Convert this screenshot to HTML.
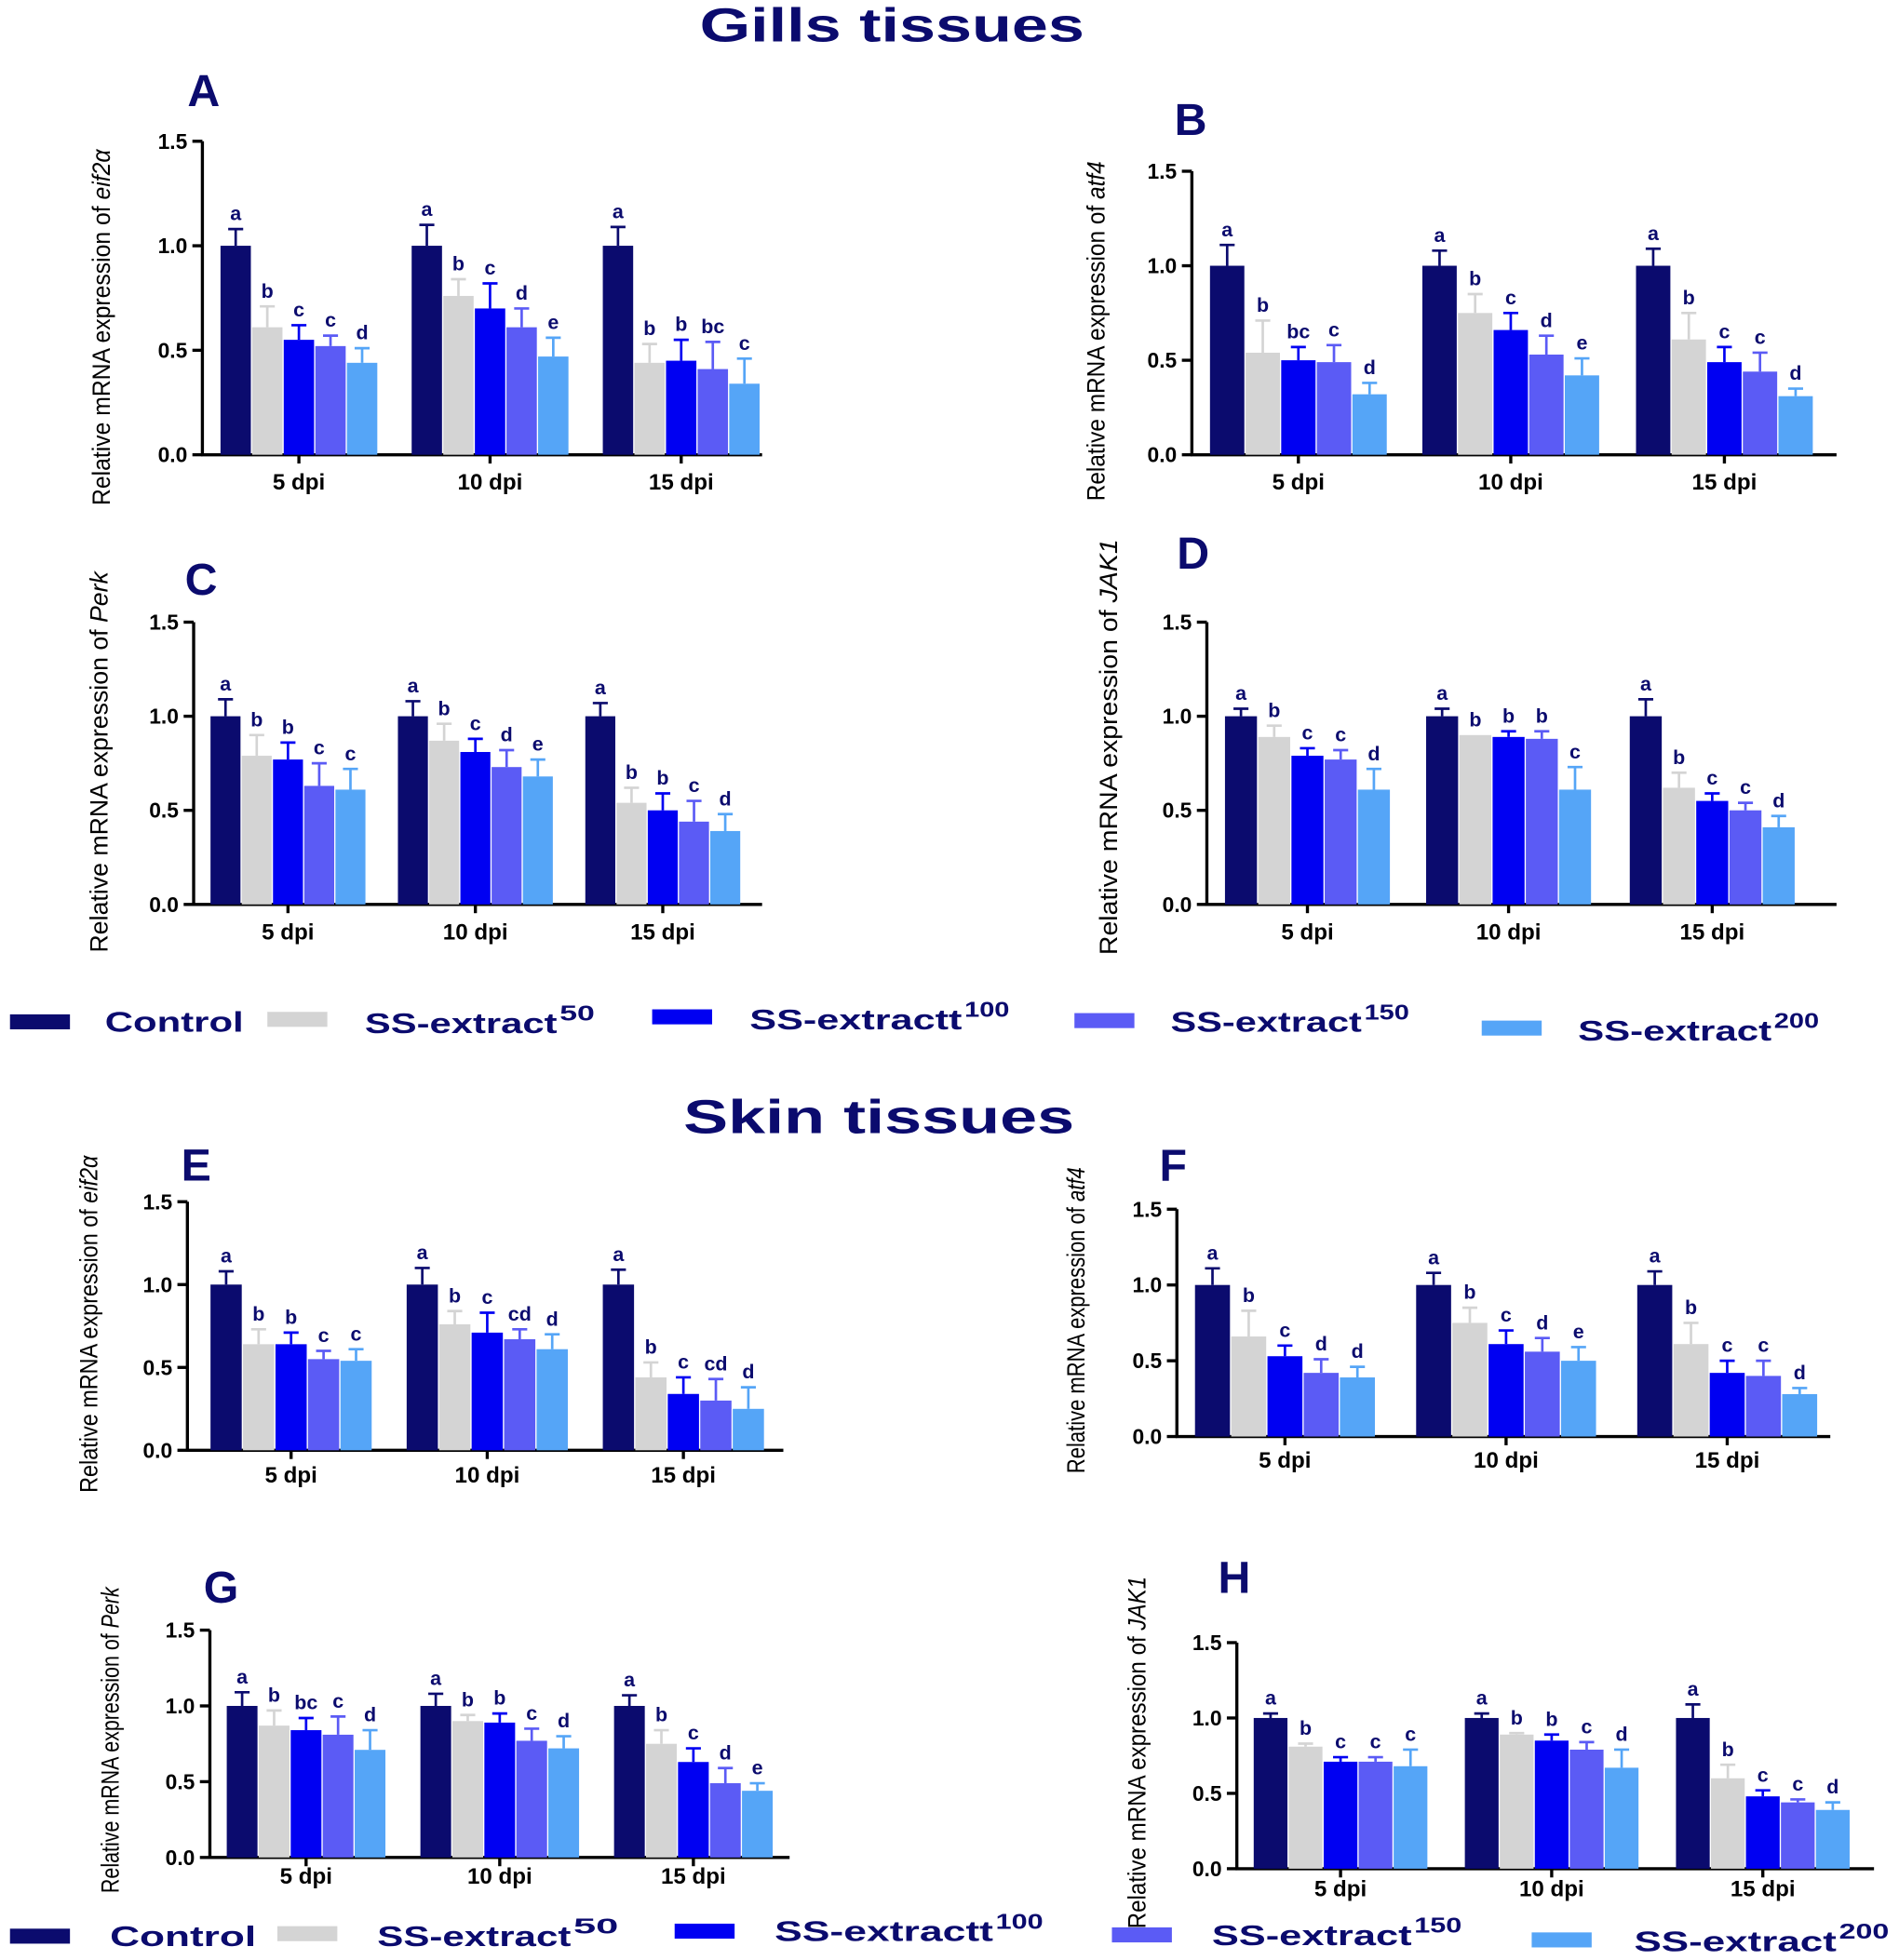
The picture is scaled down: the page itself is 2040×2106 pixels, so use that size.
<!DOCTYPE html>
<html><head><meta charset="utf-8"><style>
html,body{margin:0;padding:0;background:#fff;width:2040px;height:2106px;overflow:hidden}
svg text{font-family:"Liberation Sans",Arial,sans-serif}
</style></head><body>
<svg id="s" xmlns="http://www.w3.org/2000/svg" width="2040" height="2106" viewBox="0 0 1520 1569">
<rect width="1520" height="1569" fill="#fff"/>
</svg>
<script>
const NS="http://www.w3.org/2000/svg",S=document.getElementById('s');
function el(t,a,txt){const e=document.createElementNS(NS,t);for(const k in a)e.setAttribute(k,a[k]);if(txt!=null)e.textContent=txt;S.appendChild(e);return e;}
const NAVY="#0b0b6e",C=["#0b0b6e","#d4d4d4","#0000f2","#5b5bf5","#55a5f7"];
function panel(p){
 const sc=(p.y0-p.y15)/1.5, Y=v=>p.y0-v*sc;
 el('line',{x1:p.ax,y1:p.y15,x2:p.ax,y2:p.y0+1,stroke:'#000','stroke-width':2.5});
 el('line',{x1:p.ax-1,y1:p.y0,x2:p.xe,y2:p.y0,stroke:'#000','stroke-width':2.5});
 [0,0.5,1,1.5].forEach(v=>{el('line',{x1:p.ax-8,y1:Y(v),x2:p.ax,y2:Y(v),stroke:'#000','stroke-width':2.5});
  el('text',{x:p.ax-12,y:Y(v)+6,'text-anchor':'end','font-size':17,'font-weight':'bold'},v.toFixed(1));});
 p.g.forEach((gs,i)=>{
  const dat=p.d[i];
  const cx=gs+p.w*2.5;
  el('line',{x1:cx,y1:p.y0,x2:cx,y2:p.y0+7,stroke:'#000','stroke-width':2.5});
  for(let j=0;j<5;j++){
   const v=dat[0][j],e=dat[1][j],L=dat[2][j],x=gs+j*p.w,bx=x+p.w/2;
   el('rect',{x:x+0.5,y:Y(v),width:p.w-1,height:v*sc,fill:C[j]});
   if(e>0){el('line',{x1:bx,y1:Y(v),x2:bx,y2:Y(v+e),stroke:C[j],'stroke-width':2});
    el('line',{x1:bx-6,y1:Y(v+e),x2:bx+6,y2:Y(v+e),stroke:C[j],'stroke-width':2});}
   el('text',{x:bx,y:Y(v+e)-7,'text-anchor':'middle','font-size':16,'font-weight':'bold',fill:NAVY},L);
  }
  el('text',{x:cx,y:p.xl,'text-anchor':'middle','font-size':18,'font-weight':'bold'},['5 dpi','10 dpi','15 dpi'][i]);
 });
 el('text',{x:p.lx,y:p.ly,'font-size':36,'font-weight':'bold',fill:NAVY},p.L);
 const t=el('text',{x:0,y:0,'text-anchor':'middle','font-size':20,transform:`translate(${p.yx},${p.yc}) rotate(-90)`,textLength:p.yl,lengthAdjust:'spacingAndGlyphs'});
 t.appendChild(document.createTextNode('Relative mRNA expression of '));
 const ts=document.createElementNS(NS,'tspan');ts.setAttribute('font-style','italic');ts.textContent=p.gene;t.appendChild(ts);
}
const P=[
{L:'A',lx:150,ly:85,gene:'eif2α',yx:88,yc:262,yl:285,ax:162,y0:364,y15:113,xe:610,g:[176,329,482],w:25.3,xl:392,
 d:[[[1,.61,.55,.52,.44],[.08,.1,.07,.05,.07],'a b c c d'.split(' ')],[[1,.76,.70,.61,.47],[.1,.08,.12,.09,.09],'a b c d e'.split(' ')],[[1,.44,.45,.41,.34],[.09,.09,.1,.13,.12],'a b b bc c'.split(' ')]]},
{L:'B',lx:940,ly:108,gene:'atf4',yx:884,yc:265,yl:272,ax:954,y0:364,y15:137,xe:1470,g:[968,1138,1309],w:28.5,xl:392,
 d:[[[1,.54,.50,.49,.32],[.11,.17,.07,.09,.06],'a b bc c d'.split(' ')],[[1,.75,.66,.53,.42],[.08,.1,.09,.1,.09],'a b c d e'.split(' ')],[[1,.61,.49,.44,.31],[.09,.14,.08,.1,.04],'a b c c d'.split(' ')]]},
{L:'C',lx:148,ly:476,gene:'Perk',yx:86,yc:610,yl:305,ax:155,y0:724,y15:498,xe:610,g:[168,318,468],w:25,xl:752,
 d:[[[1,.79,.77,.63,.61],[.09,.11,.09,.12,.11],'a b b c c'.split(' ')],[[1,.87,.81,.73,.68],[.08,.09,.07,.09,.09],'a b c d e'.split(' ')],[[1,.54,.50,.44,.39],[.07,.08,.09,.11,.09],'a b b c d'.split(' ')]]},
{L:'D',lx:942,ly:455,gene:'JAK1',yx:894,yc:598,yl:333,ax:966,y0:724,y15:498,xe:1470,g:[980,1141,1304],w:26.6,xl:752,
 d:[[[1,.89,.79,.77,.61],[.04,.06,.04,.05,.11],'a b c c d'.split(' ')],[[1,.90,.89,.88,.61],[.04,0,.03,.04,.12],'a b b b c'.split(' ')],[[1,.62,.55,.50,.41],[.09,.08,.04,.04,.06],'a b c c d'.split(' ')]]},
{L:'E',lx:145,ly:945,gene:'eif2α',yx:78,yc:1060,yl:270,ax:150,y0:1161,y15:962,xe:627,g:[168,325,482],w:26,xl:1187,
 d:[[[1,.64,.64,.55,.54],[.08,.09,.07,.05,.07],'a b b c c'.split(' ')],[[1,.76,.71,.67,.61],[.1,.08,.12,.06,.09],'a b c cd d'.split(' ')],[[1,.44,.34,.30,.25],[.09,.09,.1,.13,.13],'a b c cd d'.split(' ')]]},
{L:'F',lx:928,ly:945,gene:'atf4',yx:868,yc:1057,yl:245,ax:942,y0:1150,y15:968,xe:1465,g:[956,1133,1310],w:29,xl:1175,
 d:[[[1,.66,.53,.42,.39],[.11,.17,.07,.09,.07],'a b c d d'.split(' ')],[[1,.75,.61,.56,.50],[.08,.1,.09,.09,.09],'a b c d e'.split(' ')],[[1,.61,.42,.40,.28],[.09,.14,.08,.1,.04],'a b c c d'.split(' ')]]},
{L:'G',lx:163,ly:1283,gene:'Perk',yx:95,yc:1393,yl:245,ax:168,y0:1487,y15:1305,xe:632,g:[181,336,491],w:25.6,xl:1508,
 d:[[[1,.87,.84,.81,.71],[.09,.1,.08,.12,.13],'a b bc c d'.split(' ')],[[1,.90,.89,.77,.72],[.08,.04,.06,.08,.08],'a b b c d'.split(' ')],[[1,.75,.63,.49,.44],[.07,.09,.09,.1,.05],'a b c d e'.split(' ')]]},
{L:'H',lx:975,ly:1275,gene:'JAK1',yx:917,yc:1403,yl:282,ax:990,y0:1496,y15:1315,xe:1500,g:[1003,1172,1341],w:28,xl:1518,
 d:[[[1,.81,.71,.71,.68],[.03,.02,.03,.03,.11],'a b c c c'.split(' ')],[[1,.89,.85,.79,.67],[.03,.01,.04,.05,.12],'a b b c d'.split(' ')],[[1,.60,.48,.44,.39],[.09,.09,.04,.02,.05],'a b c c d'.split(' ')]]}
];
P.forEach(panel);
el('text',{x:560,y:33,'font-size':38,'font-weight':'bold',fill:NAVY,textLength:308,lengthAdjust:'spacingAndGlyphs'},'Gills tissues');
el('text',{x:547,y:907,'font-size':38,'font-weight':'bold',fill:NAVY,textLength:313,lengthAdjust:'spacingAndGlyphs'},'Skin tissues');
function legend(items){
 const names=[['Control',''],['SS-extract','50'],['SS-extractt','100'],['SS-extract','150'],['SS-extract','200']];
 items.forEach((it,i)=>{
  el('rect',{x:it[0],y:it[1]-6,width:48,height:12,fill:C[i]});
  el('text',{x:it[2],y:it[3],'font-size':23,'font-weight':'bold',fill:NAVY,textLength:it[4],lengthAdjust:'spacingAndGlyphs'},names[i][0]);
  if(names[i][1]) el('text',{x:it[2]+it[4]+2,y:it[3]-10,'font-size':17,'font-weight':'bold',fill:NAVY,textLength:it[5],lengthAdjust:'spacingAndGlyphs'},names[i][1]);
 });
}
legend([[8,818,84,826,111],[214,816,292,827,154,28],[522,814,600,824,170,36],[860,817,937,826,153,36],[1186,823,1263,833,155,36]]);
legend([[8,1550,88,1558,117],[222,1548,302,1558,155,36],[540,1546,620,1554,175,38],[890,1549,970,1557,160,38],[1226,1553,1308,1562,162,40]]);
</script>
</body></html>
